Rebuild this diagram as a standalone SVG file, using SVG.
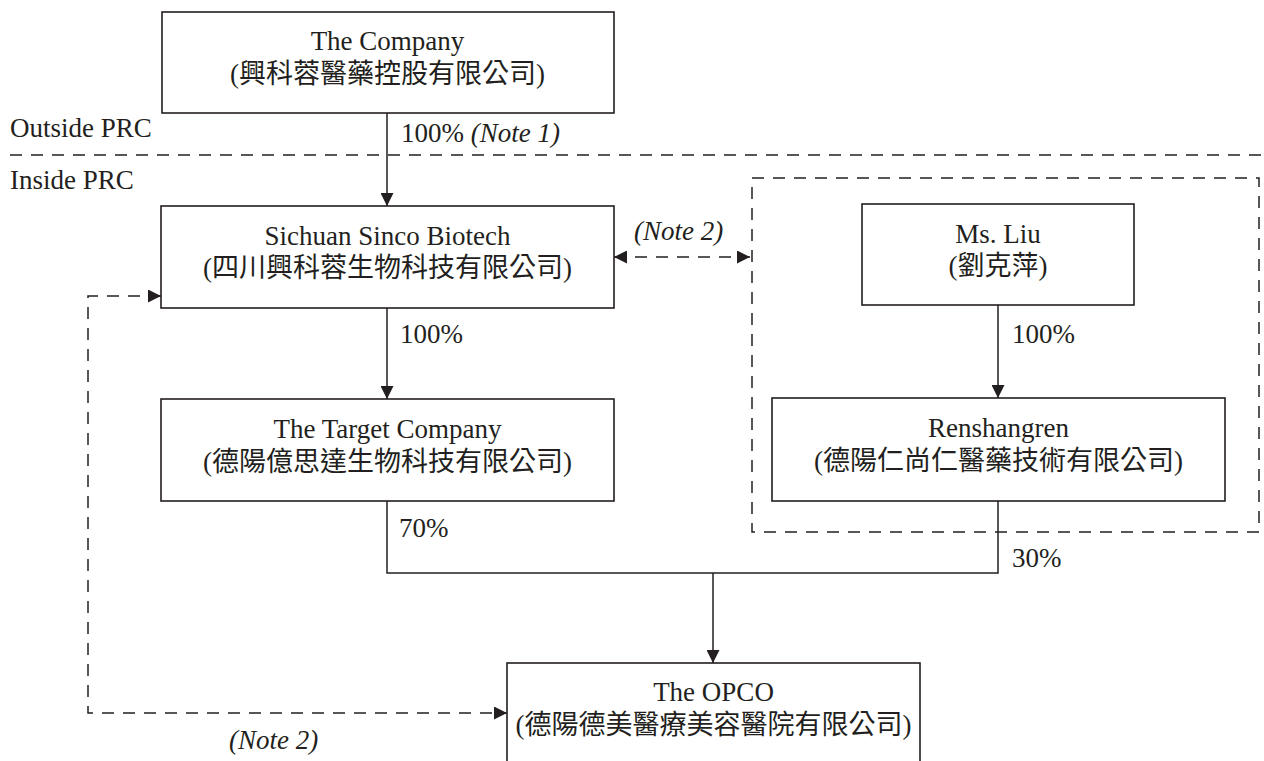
<svg xmlns="http://www.w3.org/2000/svg" width="1264" height="761" viewBox="0 0 1264 761">
<style>
.box{fill:#fff;stroke:#231f20;stroke-width:1.6}
.t{font-family:"Liberation Serif","Noto Sans CJK TC",serif;font-size:27px;fill:#231f20}
.c{text-anchor:middle}
.i{font-style:italic}
.ln{fill:none;stroke:#231f20;stroke-width:1.5}
.dash{fill:none;stroke:#231f20;stroke-width:1.5;stroke-dasharray:12 9}
</style>
<defs>
<marker id="ah" viewBox="0 0 13 13" refX="13" refY="6.5" markerWidth="13" markerHeight="13" markerUnits="userSpaceOnUse" orient="auto-start-reverse">
<path d="M0,0 L13,6.5 L0,13 z" fill="#231f20"/>
</marker>
</defs>

<g id="region-labels">
<text class="t" x="10" y="137">Outside PRC</text>
<text class="t" x="10" y="189">Inside PRC</text>
<line class="dash" x1="10" y1="155" x2="1264" y2="155"/>
<rect id="dashed-group" class="dash" x="752" y="178" width="507" height="354"/>
</g>

<g id="connectors">
<path class="ln" d="M387,113 V206" marker-end="url(#ah)"/>
<path class="ln" d="M387,308 V399" marker-end="url(#ah)"/>
<path class="ln" d="M998,305 V398" marker-end="url(#ah)"/>
<path class="ln" d="M387,501 V573 H998 V501"/>
<path class="ln" d="M713,573 V663" marker-end="url(#ah)"/>
<path class="dash" d="M614,257 H750" marker-start="url(#ah)" marker-end="url(#ah)"/>
<path class="dash" d="M161,296 H88 V713 H507" marker-start="url(#ah)" marker-end="url(#ah)"/>
<text class="t" x="401" y="142">100% <tspan class="i">(Note 1)</tspan></text>
<text class="t i" x="634" y="240">(Note 2)</text>
<text class="t" x="400" y="343">100%</text>
<text class="t" x="1012" y="343">100%</text>
<text class="t" x="399" y="537">70%</text>
<text class="t" x="1012" y="567">30%</text>
<text class="t i" x="229" y="749">(Note 2)</text>
</g>

<g id="the-company">
<rect class="box" x="162" y="12" width="452" height="101"/>
<text class="t c" x="387.5" y="50">The Company</text>
<text class="t c" x="387.5" y="83">(興科蓉醫藥控股有限公司)</text>
</g>

<g id="sichuan-sinco">
<rect class="box" x="161" y="206" width="453" height="102"/>
<text class="t c" x="387.5" y="245">Sichuan Sinco Biotech</text>
<text class="t c" x="387.5" y="277">(四川興科蓉生物科技有限公司)</text>
</g>

<g id="target-company">
<rect class="box" x="161" y="399" width="453" height="102"/>
<text class="t c" x="387.5" y="438">The Target Company</text>
<text class="t c" x="387.5" y="471">(德陽億思達生物科技有限公司)</text>
</g>

<g id="ms-liu">
<rect class="box" x="862" y="204" width="272" height="101"/>
<text class="t c" x="998" y="243">Ms. Liu</text>
<text class="t c" x="998" y="275">(劉克萍)</text>
</g>

<g id="renshangren">
<rect class="box" x="772" y="398" width="453" height="103"/>
<text class="t c" x="998.5" y="437">Renshangren</text>
<text class="t c" x="998.5" y="470">(德陽仁尚仁醫藥技術有限公司)</text>
</g>

<g id="opco">
<rect class="box" x="507" y="663" width="413" height="110"/>
<text class="t c" x="713.5" y="701">The OPCO</text>
<text class="t c" x="713.5" y="734">(德陽德美醫療美容醫院有限公司)</text>
</g>
</svg>
